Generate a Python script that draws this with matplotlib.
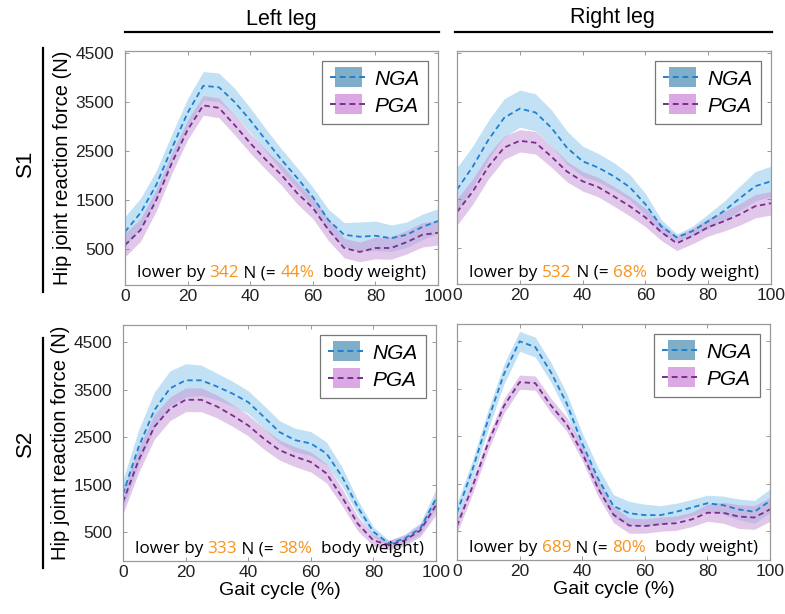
import numpy as np
import matplotlib
matplotlib.use("Agg")
import matplotlib.pyplot as plt
from matplotlib.patches import Rectangle
from matplotlib.lines import Line2D
from matplotlib.offsetbox import TextArea, HPacker, AnchoredOffsetbox

plt.rcParams['font.family'] = ['Liberation Sans', 'DejaVu Sans']

# gait cycle sample points (%)
gait = np.arange(0, 101, 5)

# S1 left leg
s1l_nga = [850, 1240, 1810, 2560, 3280, 3830, 3800, 3500, 3130, 2720, 2320, 1950, 1560, 1090, 790, 750, 770, 720, 790, 950, 1070]
s1l_nga_sd = [310, 300, 290, 290, 290, 290, 290, 280, 250, 230, 220, 210, 200, 220, 250, 300, 300, 270, 260, 260, 250]
s1l_pga = [580, 890, 1500, 2260, 2930, 3430, 3380, 3030, 2660, 2320, 2010, 1640, 1340, 890, 520, 440, 520, 520, 640, 790, 830]
s1l_pga_sd = [240, 230, 220, 210, 200, 200, 200, 200, 200, 200, 210, 220, 220, 220, 200, 200, 220, 230, 240, 250, 250]

# S1 right leg
s1r_nga = [1700, 2170, 2720, 3170, 3360, 3280, 2970, 2560, 2280, 2150, 1970, 1750, 1400, 950, 720, 850, 1050, 1260, 1520, 1770, 1870]
s1r_nga_sd = [450, 420, 400, 390, 380, 380, 370, 340, 310, 290, 280, 260, 220, 140, 70, 100, 150, 200, 250, 300, 310]
s1r_pga = [1240, 1660, 2170, 2560, 2700, 2660, 2380, 2070, 1870, 1750, 1560, 1360, 1130, 830, 600, 750, 930, 1050, 1190, 1360, 1420]
s1r_pga_sd = [270, 260, 250, 240, 230, 230, 220, 210, 200, 200, 200, 200, 190, 170, 150, 160, 180, 200, 220, 240, 240]

# S2 left leg
s2l_nga = [1310, 2300, 3070, 3530, 3700, 3700, 3570, 3420, 3240, 2930, 2610, 2440, 2370, 2160, 1670, 1030, 510, 260, 370, 580, 1210]
s2l_nga_sd = [300, 360, 380, 370, 350, 320, 280, 260, 240, 240, 240, 250, 250, 240, 200, 150, 100, 70, 90, 120, 200]
s2l_pga = [1140, 2020, 2720, 3100, 3290, 3290, 3150, 2960, 2750, 2470, 2230, 2090, 1980, 1740, 1240, 680, 330, 230, 330, 540, 1070]
s2l_pga_sd = [250, 260, 260, 250, 250, 250, 240, 230, 220, 220, 210, 210, 210, 200, 180, 150, 120, 100, 110, 130, 200]

# S2 right leg
s2r_nga = [890, 1810, 2860, 3810, 4500, 4380, 3850, 3200, 2350, 1620, 1030, 880, 840, 840, 910, 1000, 1090, 1050, 960, 910, 1140]
s2r_nga_sd = [200, 200, 210, 210, 210, 210, 210, 210, 220, 230, 240, 250, 230, 200, 180, 170, 170, 190, 220, 240, 250]
s2r_pga = [610, 1450, 2370, 3140, 3640, 3620, 3150, 2760, 2150, 1410, 850, 620, 610, 650, 670, 750, 890, 890, 810, 790, 960]
s2r_pga_sd = [150, 150, 150, 150, 150, 150, 150, 150, 160, 170, 170, 160, 150, 150, 150, 150, 180, 220, 250, 250, 250]

lower_by = [342, 532, 333, 689]
bw_pct = [44, 68, 38, 80]

ytick_vals = [500, 1500, 2500, 3500, 4500]
xtick_vals = [0, 20, 40, 60, 80, 100]

W, H = 785, 614
fig = plt.figure(figsize=(W / 100, H / 100), dpi=100)

def px_box(x0, y0, x1, y1):
    return [x0 / W, 1 - y1 / H, (x1 - x0) / W, (y1 - y0) / H]

# legend key: shaded box with a dashed line running through it
class BandKey:
    def __init__(self, face, line):
        self.face = face
        self.line = line

class BandKeyHandler:
    def legend_artist(self, legend, orig, fontsize, handlebox):
        x0, y0 = handlebox.xdescent, handlebox.ydescent
        w, h = handlebox.width, handlebox.height
        rect = Rectangle((x0 + 0.14 * w, y0 - 0.15 * h), 0.72 * w, 1.3 * h,
                         facecolor=orig.face, edgecolor='none', transform=handlebox.get_transform())
        ln = Line2D([x0, x0 + w], [y0 + h / 2] * 2, ls=(0, (3, 2)), color=orig.line, lw=1.4,
                    transform=handlebox.get_transform())
        handlebox.add_artist(rect)
        handlebox.add_artist(ln)
        return rect

axes = [
    fig.add_axes(px_box(125, 51, 438, 285)),
    fig.add_axes(px_box(457, 51, 771, 284)),
    fig.add_axes(px_box(123, 325, 436, 561)),
    fig.add_axes(px_box(457, 324, 770, 560)),
]

data = [
    (s1l_nga, s1l_nga_sd, s1l_pga, s1l_pga_sd),
    (s1r_nga, s1r_nga_sd, s1r_pga, s1r_pga_sd),
    (s2l_nga, s2l_nga_sd, s2l_pga, s2l_pga_sd),
    (s2r_nga, s2r_nga_sd, s2r_pga, s2r_pga_sd),
]
ylims = [(-235, 4540), (-235, 4540), (-105, 4865), (-105, 4865)]

nga_line, pga_line = '#1f7fd0', '#7a2d8e'
nga_fill, pga_fill = '#a8d5f0', '#c99ad8'
orange = '#f7941d'

for i, ax in enumerate(axes):
    nga, nga_sd, pga, pga_sd = [np.array(a, dtype=float) for a in data[i]]
    ax.fill_between(gait, nga - nga_sd, nga + nga_sd, color=nga_fill, alpha=0.7, lw=0)
    ax.fill_between(gait, pga - pga_sd, pga + pga_sd, color=pga_fill, alpha=0.55, lw=0)
    ax.plot(gait, nga, ls=(0, (3, 2)), color=nga_line, lw=1.3)
    ax.plot(gait, pga, ls=(0, (3, 2)), color=pga_line, lw=1.3)

    ax.set_xlim(0, 100)
    ax.set_ylim(*ylims[i])
    ax.set_xticks(xtick_vals)
    ax.set_yticks(ytick_vals)
    if i % 2 == 1:
        ax.set_yticklabels([])
    ax.tick_params(direction='in', top=True, right=True, length=3, width=0.6,
                   color='#888888', labelcolor='#222222', labelsize=12.5, pad=3)
    ax.tick_params(axis='y', pad=8)
    for sp in ax.spines.values():
        sp.set_color('#999999')
        sp.set_linewidth(0.9)

    keys = [BandKey('#7eaec8', nga_line), BandKey('#dba8e3', pga_line)]
    leg = ax.legend(keys, ['NGA', 'PGA'], handler_map={BandKey: BandKeyHandler()},
                    loc='upper right', fancybox=False, framealpha=1, edgecolor='#777777',
                    prop={'style': 'italic', 'size': 15}, handlelength=1.8, handleheight=0.75,
                    labelspacing=0.4, borderaxespad=0.5, handletextpad=0.3, borderpad=0.4)
    leg.get_frame().set_linewidth(0.9)

    tp = dict(family=['Open Sans', 'DejaVu Sans'], size=12.3)
    parts = [
        TextArea("lower by ", textprops=dict(color='black', **tp)),
        TextArea(str(lower_by[i]), textprops=dict(color=orange, **tp)),
        TextArea(" N (= ", textprops=dict(color='black', **tp)),
        TextArea(f"{bw_pct[i]}%", textprops=dict(color=orange, **tp)),
        TextArea("  body weight)", textprops=dict(color='black', **tp)),
    ]
    box = HPacker(children=parts, align='baseline', pad=0, sep=0)
    anchored = AnchoredOffsetbox(loc='lower center', child=box, pad=0, borderpad=0, frameon=False,
                                 bbox_to_anchor=(0.5, 0.015), bbox_transform=ax.transAxes)
    ax.add_artist(anchored)

axes[0].set_ylabel('Hip joint reaction force (N)', fontsize=14.5, labelpad=2)
axes[2].set_ylabel('Hip joint reaction force (N)', fontsize=14.5, labelpad=2)
axes[2].set_xlabel('Gait cycle (%)', fontsize=14, labelpad=1)
axes[3].set_xlabel('Gait cycle (%)', fontsize=14, labelpad=1)

# column headers with rules
fig.text(281 / W, 1 - 19 / H, 'Left leg', ha='center', va='center', fontsize=15.5)
fig.text(612 / W, 1 - 18 / H, 'Right leg', ha='center', va='center', fontsize=15.5)
fig.add_artist(Line2D([125 / W, 439 / W], [1 - 32 / H] * 2, color='black', lw=1.6))
fig.add_artist(Line2D([455 / W, 772 / W], [1 - 32 / H] * 2, color='black', lw=1.6))

# row labels with rules
fig.text(25 / W, 1 - 163 / H, 'S1', ha='center', va='center', rotation=90, fontsize=16)
fig.text(25 / W, 1 - 443 / H, 'S2', ha='center', va='center', rotation=90, fontsize=16)
fig.add_artist(Line2D([43 / W] * 2, [1 - 48 / H, 1 - 292 / H], color='black', lw=1.6))
fig.add_artist(Line2D([43 / W] * 2, [1 - 338 / H, 1 - 568 / H], color='black', lw=1.6))

fig.savefig('out.png', dpi=100)
